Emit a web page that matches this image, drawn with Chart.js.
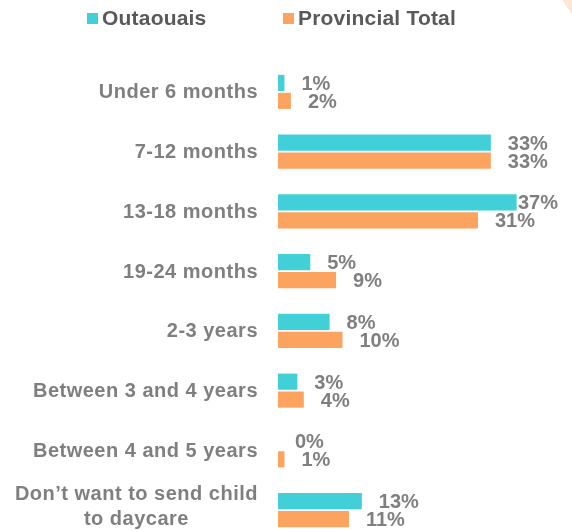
<!DOCTYPE html>
<html>
<head>
<meta charset="utf-8">
<script src="https://cdn.jsdelivr.net/npm/chart.js@4.4.1/dist/chart.umd.min.js"></script>
<style>
  html, body { margin: 0; padding: 0; background: #fff; overflow: hidden; }
  #wrap { position: relative; width: 572px; height: 541px; }
</style>
</head>
<body>
<div id="wrap"><canvas id="c"></canvas></div>
<script>
const categories = [
  'Under 6 months',
  '7-12 months',
  '13-18 months',
  '19-24 months',
  '2-3 years',
  'Between 3 and 4 years',
  'Between 4 and 5 years',
  ['Don\u2019t want to send child', 'to daycare']
];
const outaouais = [1, 33, 37, 5, 8, 3, 0, 13];
const provincial = [2, 33, 31, 9, 10, 4, 1, 11];
const seriesNames = ['Outaouais', 'Provincial Total'];

const TEAL = '#41CFD8';
const ORANGE = '#FCA45F';
const FONT = '"Liberation Sans", Arial, sans-serif';

// faint slide decoration in the top right corner
const backdrop = {
  id: 'backdrop',
  beforeDraw(chart) {
    const ctx = chart.ctx;
    ctx.save();
    ctx.fillStyle = '#FDE6D2';
    ctx.beginPath();
    ctx.arc(640, -40, 87, 0, Math.PI * 2);
    ctx.fill();
    ctx.restore();
  }
};

// legend, category labels and value labels
const texts = {
  id: 'texts',
  afterDatasetsDraw(chart) {
    const { ctx, chartArea, scales: { y } } = chart;
    ctx.save();
    ctx.textBaseline = 'middle';

    // legend
    ctx.font = 'bold 21px ' + FONT;
    ctx.letterSpacing = '0.2px';
    ctx.textAlign = 'left';
    const legendX = [87, 283];
    chart.data.datasets.forEach((ds, i) => {
      ctx.fillStyle = ds.backgroundColor;
      ctx.fillRect(legendX[i], 13, 11, 11);
      ctx.fillStyle = '#595959';
      ctx.fillText(ds.label, legendX[i] + 15, 19);
    });

    // category labels
    ctx.font = 'bold 20px ' + FONT;
    ctx.letterSpacing = '0.5px';
    ctx.fillStyle = '#7F7F7F';
    const right = chartArea.left - 20;
    categories.forEach((c, i) => {
      const lines = Array.isArray(c) ? c : [c];
      const cy = y.getPixelForValue(i);
      if (lines.length === 1) {
        ctx.textAlign = 'right';
        ctx.fillText(lines[0], right, cy + 1);
      } else {
        const widest = Math.max(...lines.map(l => ctx.measureText(l).width));
        ctx.textAlign = 'center';
        lines.forEach((l, j) => {
          ctx.fillText(l, right - widest / 2, cy - 3 + (j - (lines.length - 1) / 2) * 25);
        });
      }
    });

    // value labels
    ctx.letterSpacing = '0px';
    ctx.textAlign = 'left';
    chart.data.datasets.forEach((ds, di) => {
      chart.getDatasetMeta(di).data.forEach((bar, i) => {
        const t = ds.data[i] + '%';
        const w = ctx.measureText(t).width;
        const x = Math.min(bar.x + 17, chart.width - 14 - w);
        ctx.fillText(t, x, bar.y + 1.5);
      });
    });
    ctx.restore();
  }
};

new Chart(document.getElementById('c'), {
  type: 'bar',
  data: {
    labels: categories,
    datasets: [
      { label: seriesNames[0], data: outaouais, backgroundColor: TEAL },
      { label: seriesNames[1], data: provincial, backgroundColor: ORANGE }
    ]
  },
  options: {
    indexAxis: 'y',
    responsive: true,
    maintainAspectRatio: false,
    animation: false,
    categoryPercentage: 0.6,
    barPercentage: 0.9,
    layout: { padding: { top: 62, bottom: 1, right: 36, left: 0 } },
    plugins: {
      legend: { display: false },
      tooltip: { enabled: false }
    },
    scales: {
      x: { display: false, min: 0, max: 40 },
      y: {
        grid: { display: false },
        border: { display: false },
        ticks: { display: false },
        afterFit(s) { s.width = 278; }
      }
    }
  },
  plugins: [backdrop, texts]
});
</script>
</body>
</html>
